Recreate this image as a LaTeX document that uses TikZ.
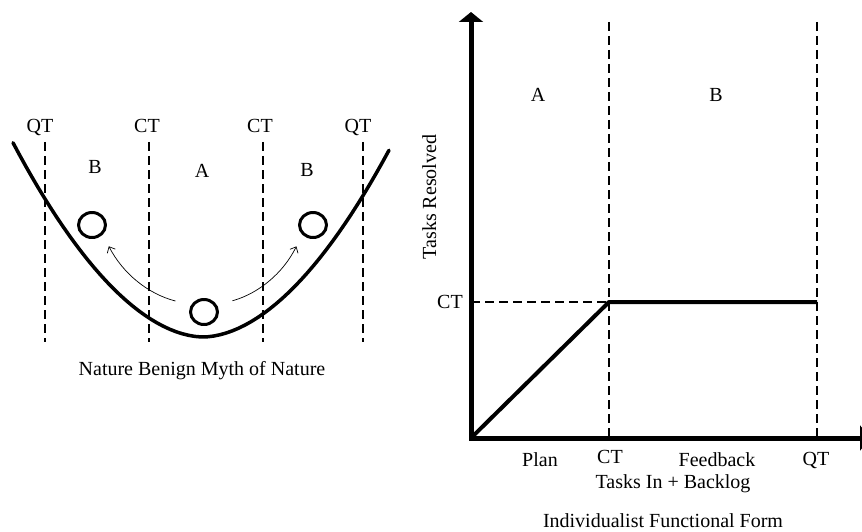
\documentclass[tikz,border=0pt]{standalone}
\usepackage{fontspec}
\setmainfont{Liberation Serif}
\usetikzlibrary{arrows.meta,shapes.geometric}

\begin{document}
\begin{tikzpicture}[x=1pt,y=-1pt,>={Straight Barb[length=5pt,width=9pt]},line join=round,
  font=\fontsize{20}{24}\selectfont,
  lbl/.style={inner sep=0pt,anchor=base},
  guide/.style={line width=1.3pt,dash pattern=on 9pt off 5pt},
  ball/.style={draw,ellipse,line width=3pt,inner sep=0pt,
   minimum width=27pt,minimum height=25pt},
  roll/.style={->,line width=0.7pt,shorten <=16pt,shorten >=13pt},
  axis/.style={line width=5pt,line join=miter}]
 \useasboundingbox (0,0) rectangle (862,532);
 % left: the valley
 \draw[guide] (45,142)--(45,342);
 \draw[guide] (149,142)--(149,342);
 \draw[guide] (263,142)--(263,342);
 \draw[guide] (363,142)--(363,342);
 \draw[line width=3.5pt,line cap=round] plot[domain=-190:186,samples=61]
  ({203+\x},{337-59.2*(abs(\x)/100+0.001)^1.85});
 \node[lbl] (qtL) at (40,133) {QT};
 \node[lbl] (ctL) at (147,133) {CT};
 \node[lbl] (ctR) at (260,133) {CT};
 \node[lbl] (qtR) at (358,133) {QT};
 \node[lbl] (zoneBL) at (95,174) {B};
 \node[lbl] (zoneA) at (202,178) {A};
 \node[lbl] (zoneBR) at (307,176) {B};
 \node[ball] (ballL) at (92,225) {};
 \node[ball] (ballR) at (313,225) {};
 \node[ball] (ballM) at (204,312) {};
 \draw[roll] (ballM.152) to[bend left=24] (ballL.-42);
 \draw[roll] (ballM.28) to[bend right=24] (ballR.-138);
 \node[lbl] (mythcap) at (202,375) {Nature Benign Myth of Nature};
 % right: functional form
 \draw[guide] (471,302)--(609,302);
 \draw[guide] (609,22)--(609,438);
 \draw[guide] (817,22)--(817,438);
 \draw[axis,{Triangle[width=24pt,length=10pt]}-{Triangle[width=25pt,length=10pt]}]
  (471,12)--(471,438)--(870,438);
 \draw[line width=4pt] (471,438)--(609,302)--(817,302);
 \node[lbl] (zoneA2) at (538,102) {A};
 \node[lbl] (zoneB2) at (716,102) {B};
 \node[lbl] (ctY) at (450,308) {CT};
 \node[lbl,rotate=90] (ylab) at (436,197) {Tasks Resolved};
 \node[lbl] (plan) at (540,466) {Plan};
 \node[lbl] (ctX) at (610,463) {CT};
 \node[lbl] (feedback) at (717,466) {Feedback};
 \node[lbl] (qtX) at (816,465) {QT};
 \node[lbl] (xlab) at (673,488) {Tasks In + Backlog};
 \node[lbl] (formcap) at (663,527) {Individualist Functional Form};
\end{tikzpicture}
\end{document}
